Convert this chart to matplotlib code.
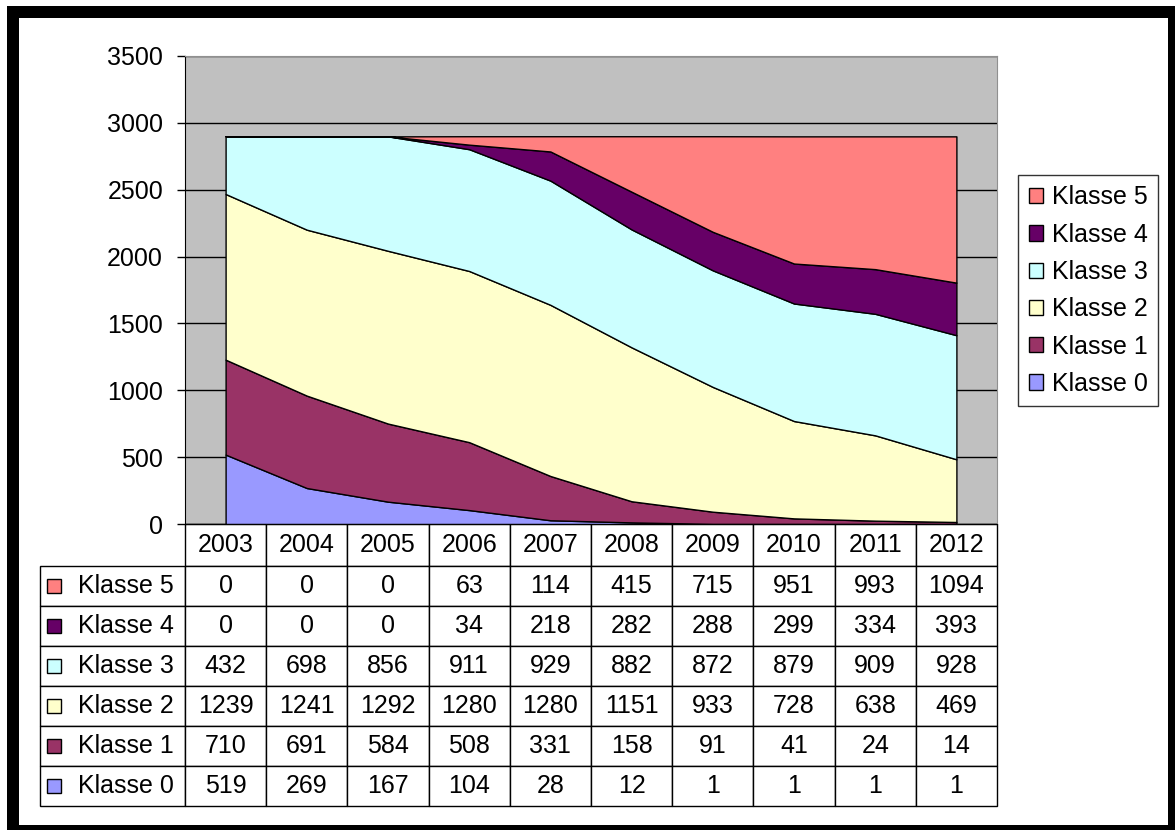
import matplotlib
matplotlib.use("Agg")
import matplotlib.pyplot as plt
from matplotlib.patches import Rectangle, Patch
from matplotlib.table import Table

plt.rcParams['font.family'] = ['Liberation Sans', 'DejaVu Sans']

years = ['2003', '2004', '2005', '2006', '2007', '2008', '2009', '2010', '2011', '2012']
labels = ['Klasse 0', 'Klasse 1', 'Klasse 2', 'Klasse 3', 'Klasse 4', 'Klasse 5']
klasse0 = [519, 269, 167, 104, 28, 12, 1, 1, 1, 1]
klasse1 = [710, 691, 584, 508, 331, 158, 91, 41, 24, 14]
klasse2 = [1239, 1241, 1292, 1280, 1280, 1151, 933, 728, 638, 469]
klasse3 = [432, 698, 856, 911, 929, 882, 872, 879, 909, 928]
klasse4 = [0, 0, 0, 34, 218, 282, 288, 299, 334, 393]
klasse5 = [0, 0, 0, 63, 114, 415, 715, 951, 993, 1094]
series = [klasse0, klasse1, klasse2, klasse3, klasse4, klasse5]
colors = ['#9999FF', '#993366', '#FFFFCC', '#CCFFFF', '#660066', '#FF8080']

W, H = 1175, 830
FS = 18


def fx(px):
    return px / W


def fy(py):
    return 1 - py / H


fig = plt.figure(figsize=(W / 100, H / 100), dpi=100)
fig.patch.set_facecolor('white')

# black frame round the chart
fig.patches.append(Rectangle((fx(7), 0), 1 - fx(7), fy(6), transform=fig.transFigure,
                             facecolor='black', edgecolor='none', zorder=-10))
fig.patches.append(Rectangle((fx(19), fy(825)), fx(1168) - fx(19), fy(18) - fy(825),
                             transform=fig.transFigure, facecolor='white',
                             edgecolor='none', zorder=-9))

# plot area in pixels
L, R, T, B = 185, 997, 56, 524
ax = fig.add_axes([fx(L), fy(B), fx(R) - fx(L), fy(T) - fy(B)])
ax.set_facecolor('#C0C0C0')

x = list(range(len(years)))
ax.stackplot(x, *series, colors=colors, edgecolor='black', linewidth=1.0, zorder=2)

ax.set_xlim(-0.5, len(years) - 0.5)
ax.set_ylim(0, 3500)
ax.set_yticks(range(0, 3501, 500))
ax.set_xticks([])
ax.yaxis.grid(True, color='black', linewidth=1.0)
ax.set_axisbelow(True)
ax.tick_params(axis='y', direction='out', length=5.8, width=1, pad=10, labelsize=FS,
               colors='black')
ax.spines['left'].set_color('black')
ax.spines['bottom'].set_color('black')
for s in ['top', 'right']:
    ax.spines[s].set_color('#909090')

# legend on the right
handles = [Patch(facecolor=c, edgecolor='black', linewidth=1) for c in colors][::-1]
leg = fig.legend(handles, labels[::-1], loc='upper left',
                 bbox_to_anchor=(fx(1018), fy(175)), bbox_transform=fig.transFigure,
                 borderaxespad=0, fontsize=FS, frameon=True, fancybox=False,
                 handlelength=0.56, handleheight=0.56, handletextpad=0.36,
                 labelspacing=0.53, borderpad=0.42)
leg.get_frame().set_edgecolor('black')
leg.get_frame().set_linewidth(1.0)

# data table under the plot (column 0 holds the row labels)
TL, TB = 40, 806
head_h, row_h = 42, 40
lab_w, col_w = 145, (R - L) / len(years)
aw, ah = R - L, B - T
tab = Table(ax, bbox=[(TL - L) / aw, (B - TB) / ah, (R - TL) / aw, (TB - B) / ah])
for j, yr in enumerate(years):
    tab.add_cell(0, j + 1, col_w / aw, head_h / ah, text=yr, loc='center',
                 facecolor='white')
rows = list(zip(labels, series))[::-1]
for i, (lab, vals) in enumerate(rows):
    c = tab.add_cell(i + 1, 0, lab_w / aw, row_h / ah, text=lab, loc='right',
                     facecolor='white')
    c.PAD = 0.08
    for j, v in enumerate(vals):
        tab.add_cell(i + 1, j + 1, col_w / aw, row_h / ah, text=str(v), loc='center',
                     facecolor='white')
tab.auto_set_font_size(False)
tab.set_fontsize(FS)
ax.add_table(tab)

# colour keys in the row labels
key = 14
for i, c in enumerate(colors[::-1]):
    yc = B + head_h + row_h * i + row_h / 2
    ax.add_patch(Rectangle(((47 - L) / aw, (B - yc - key / 2) / ah), key / aw, key / ah,
                           transform=ax.transAxes, facecolor=c, edgecolor='black',
                           linewidth=1, clip_on=False, zorder=5))

fig.savefig('out.png', dpi=100)
